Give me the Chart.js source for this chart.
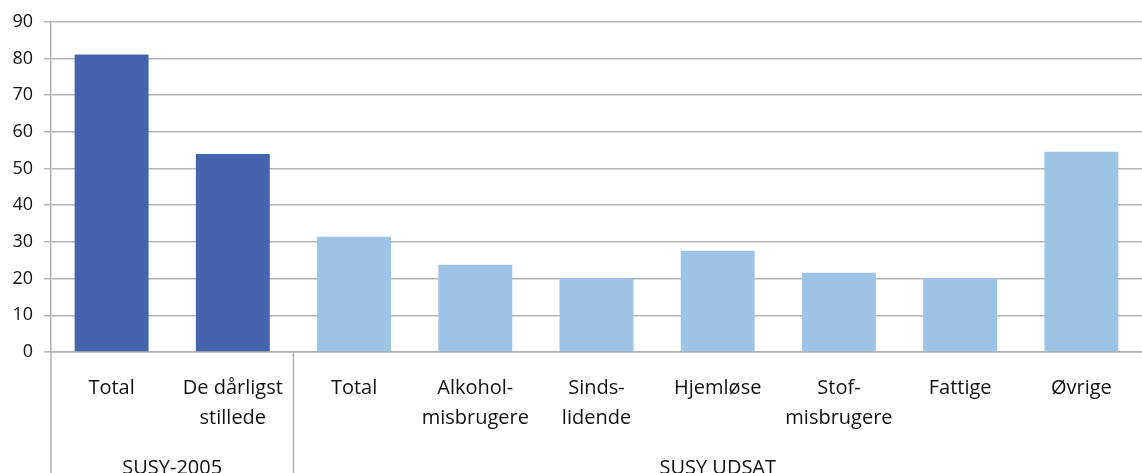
<!DOCTYPE html>
<html>
<head>
<meta charset="utf-8">
<script src="https://cdn.jsdelivr.net/npm/chart.js@4"></script>
<style>
  html, body { margin: 0; padding: 0; background: #fff; }
  #wrap { width: 1142px; height: 473px; position: relative; }
</style>
</head>
<body>
<div id="wrap"><canvas id="chart"></canvas></div>
<script>
// data
const categories = [
    'Total', ['De dårligst', 'stillede'], 'Total', ['Alkohol-', 'misbrugere'],
    ['Sinds-', 'lidende'], 'Hjemløse', ['Stof-', 'misbrugere'], 'Fattige', 'Øvrige'
];
const values = [81.1, 54, 31.4, 23.8, 20, 27.6, 21.6, 20, 54.6];
const groupNames = ['SUSY-2005', 'SUSY UDSAT'];
const groupSizes = [2, 7];
const yTicks = [0, 10, 20, 30, 40, 50, 60, 70, 80, 90];

const groupColors = ['#4464ad', '#9dc3e6'];
const fontFamily = '"Open Sans", "DejaVu Sans", sans-serif';

const barColors = [];
groupSizes.forEach((n, g) => {
    for (let i = 0; i < n; i++) barColors.push(groupColors[g]);
});

// group separators + group names under the category labels
const groupPlugin = {
    id: 'groups',
    afterDraw(chart) {
        const ctx = chart.ctx;
        const x = chart.scales.x;
        const area = chart.chartArea;
        const bottom = chart.height;
        ctx.save();
        ctx.strokeStyle = '#b0b0b0';
        ctx.lineWidth = 1.5;
        let start = 0;
        const edges = [area.left];
        groupSizes.forEach(n => {
            const end = start + n;
            const right = end < values.length
                ? (x.getPixelForValue(end - 1) + x.getPixelForValue(end)) / 2
                : area.right;
            edges.push(right);
            start = end;
        });
        // vertical separators run from the axis down to the bottom
        edges.slice(0, -1).forEach(px => {
            ctx.beginPath();
            ctx.moveTo(px, area.bottom);
            ctx.lineTo(px, bottom);
            ctx.stroke();
        });
        ctx.fillStyle = '#111';
        ctx.font = '20px ' + fontFamily;
        ctx.textAlign = 'center';
        ctx.textBaseline = 'middle';
        groupNames.forEach((name, g) => {
            ctx.fillText(name, (edges[g] + edges[g + 1]) / 2, 468);
        });
        ctx.restore();
    }
};

new Chart(document.getElementById('chart'), {
    type: 'bar',
    data: {
        labels: categories,
        datasets: [{
            data: values,
            backgroundColor: barColors,
            borderWidth: 0,
            barPercentage: 0.61,
            categoryPercentage: 1
        }]
    },
    options: {
        responsive: true,
        maintainAspectRatio: false,
        animation: false,
        layout: { padding: { top: 19, right: 0, left: 0, bottom: 0 } },
        plugins: {
            legend: { display: false },
            tooltip: { enabled: false }
        },
        scales: {
            x: {
                grid: { display: false, drawTicks: false },
                border: { display: true, color: '#b0b0b0', width: 1.5 },
                ticks: {
                    color: '#111',
                    font: { family: fontFamily, size: 20, lineHeight: 1.5 },
                    padding: 21,
                    maxRotation: 0,
                    autoSkip: false
                },
                afterFit(scale) { scale.height = 121; }
            },
            y: {
                min: 0,
                max: 90,
                afterBuildTicks(scale) { scale.ticks = yTicks.map(v => ({ value: v })); },
                grid: { color: '#b5b5b5', lineWidth: 1.5, tickLength: 7 },
                border: { display: true, color: '#b0b0b0', width: 1.5 },
                ticks: {
                    color: '#111',
                    font: { family: fontFamily, size: 18 },
                    padding: 11
                },
                afterFit(scale) { scale.width = 51; }
            }
        }
    },
    plugins: [groupPlugin]
});
</script>
</body>
</html>
